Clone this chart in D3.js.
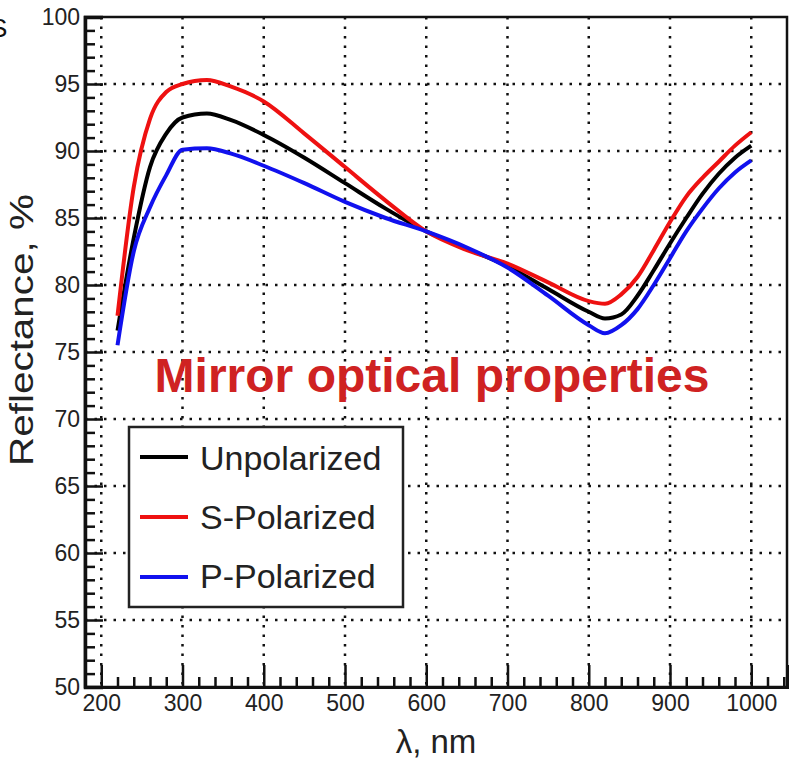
<!DOCTYPE html>
<html>
<head>
<meta charset="utf-8">
<script src="https://cdn.jsdelivr.net/npm/d3@7"></script>
<style>
  body { margin: 0; background: #fff; }
  svg { display: block; font-family: "Liberation Sans", Arial, sans-serif; }
</style>
</head>
<body>
<div id="chart"></div>
<script>
// wavelength samples (nm) and reflectance (%) per polarisation
var wavelengths = [220, 240, 260, 280, 300, 330, 360, 400, 450, 500, 550, 600, 650, 700, 750, 800, 820, 840, 860, 880, 900, 920, 940, 960, 980, 1000];
var unpolarized = [76.6, 83.5, 88.8, 91.3, 92.5, 92.8, 92.3, 91.2, 89.5, 87.6, 85.7, 84.0, 82.7, 81.4, 79.7, 78.0, 77.5, 77.8, 79.2, 81.1, 83.1, 85.0, 86.8, 88.3, 89.5, 90.4];
var sPolarized  = [77.7, 87.3, 92.4, 94.4, 95.0, 95.3, 94.8, 93.7, 91.3, 88.8, 86.3, 84.0, 82.6, 81.6, 80.2, 78.8, 78.6, 79.3, 80.6, 82.6, 84.7, 86.6, 88.0, 89.2, 90.4, 91.4];
var pPolarized  = [75.5, 82.5, 85.8, 88.2, 90.1, 90.2, 89.8, 88.9, 87.6, 86.2, 85.0, 84.0, 82.8, 81.3, 79.2, 77.0, 76.4, 77.0, 78.2, 80.0, 82.0, 84.0, 85.7, 87.2, 88.4, 89.3];
var seriesNames = ['Unpolarized', 'S-Polarized', 'P-Polarized'];
var xTicks = [200, 300, 400, 500, 600, 700, 800, 900, 1000];
var yTicks = [50, 55, 60, 65, 70, 75, 80, 85, 90, 95, 100];

var colors = ['#000000', '#ee1111', '#1111ee'];
var seriesValues = [unpolarized, sPolarized, pPolarized];

var
  margin = { top: 17, right: 2, bottom: 72, left: 85 },
  width = 789 - margin.left - margin.right,
  height = 759 - margin.top - margin.bottom;

var svg = d3.select('#chart').append('svg')
  .attr('width', 789)
  .attr('height', 759);

var g = svg.append('g').attr('transform', 'translate(' + margin.left + ',' + margin.top + ')');

var x = d3.scaleLinear().domain([180, 1044]).range([0, width]);
var y = d3.scaleLinear().domain([50, 100]).range([height, 0]);

// dotted grid
g.append('g').selectAll('line.vx')
  .data(xTicks).enter().append('line')
    .attr('x1', function(d) { return x(d); }).attr('x2', function(d) { return x(d); })
    .attr('y1', 0).attr('y2', height)
    .attr('stroke', '#111').attr('stroke-width', 2.5)
    .attr('stroke-dasharray', '2.5,7');
g.append('g').selectAll('line.hy')
  .data(yTicks.slice(1, -1)).enter().append('line')
    .attr('x1', 0).attr('x2', width)
    .attr('y1', function(d) { return y(d); }).attr('y2', function(d) { return y(d); })
    .attr('stroke', '#111').attr('stroke-width', 2.5)
    .attr('stroke-dasharray', '2.5,7');

// frame
g.append('rect')
  .attr('width', width).attr('height', height)
  .attr('fill', 'none').attr('stroke', '#111').attr('stroke-width', 2.5);

// minor ticks
var xMinor = d3.range(180, 1045, 20).filter(function(d) { return d % 100 !== 0; });
var yMinor = d3.range(50, 100, 1).filter(function(d) { return d % 5 !== 0; });

g.append('g').attr('transform', 'translate(0,' + height + ')')
  .call(d3.axisBottom(x).tickValues(xMinor).tickSize(-10).tickFormat(''))
  .call(function(s) { s.select('.domain').remove(); s.selectAll('line').attr('stroke-width', 2.5).attr('stroke', '#111'); });
g.append('g')
  .call(d3.axisLeft(y).tickValues(yMinor).tickSize(-10).tickFormat(''))
  .call(function(s) { s.select('.domain').remove(); s.selectAll('line').attr('stroke-width', 2.5).attr('stroke', '#111'); });

// major ticks + labels
g.append('g').attr('transform', 'translate(0,' + height + ')')
  .call(d3.axisBottom(x).tickValues(xTicks).tickSize(-22).tickPadding(8).tickFormat(d3.format('d')))
  .call(function(s) {
    s.select('.domain').attr('stroke-width', 3).attr('stroke', '#111');
    s.selectAll('line').attr('stroke-width', 2.5).attr('stroke', '#111');
    s.selectAll('text').attr('font-size', 23).attr('fill', '#222').attr('font-family', 'Liberation Sans, Arial, sans-serif');
  });
g.append('g')
  .call(d3.axisLeft(y).tickValues(yTicks).tickSize(-18).tickPadding(5))
  .call(function(s) {
    s.select('.domain').attr('stroke-width', 3.5).attr('stroke', '#111');
    s.selectAll('line').attr('stroke-width', 2.5).attr('stroke', '#111');
    s.selectAll('text').attr('font-size', 23).attr('fill', '#222').attr('font-family', 'Liberation Sans, Arial, sans-serif');
  });

// curves
var line = d3.line()
  .x(function(d) { return x(d[0]); })
  .y(function(d) { return y(d[1]); })
  .curve(d3.curveMonotoneX);

seriesValues.forEach(function(vals, i) {
  g.append('path')
    .datum(wavelengths.map(function(w, j) { return [w, vals[j]]; }))
    .attr('d', line)
    .attr('fill', 'none')
    .attr('stroke', colors[i])
    .attr('stroke-width', 4)
    .attr('stroke-linejoin', 'round');
});

// legend
var legend = svg.append('g').attr('transform', 'translate(129,427)');
legend.append('rect')
  .attr('width', 274).attr('height', 180)
  .attr('fill', '#fff').attr('stroke', '#222').attr('stroke-width', 2.5);
seriesNames.forEach(function(name, i) {
  legend.append('line')
    .attr('x1', 11).attr('x2', 59)
    .attr('y1', 30 + i * 60).attr('y2', 30 + i * 60)
    .attr('stroke', colors[i]).attr('stroke-width', 4);
  legend.append('text')
    .attr('x', 71).attr('y', 43 + i * 59)
    .attr('font-size', 34).attr('fill', '#222')
    .text(name);
});

// axis titles
svg.append('text')
  .attr('transform', 'translate(33,330) rotate(-90)')
  .attr('text-anchor', 'middle')
  .attr('font-size', 33).attr('fill', '#222')
  .attr('textLength', 272).attr('lengthAdjust', 'spacingAndGlyphs')
  .text('Reflectance, %');
svg.append('text')
  .attr('x', 436).attr('y', 753)
  .attr('text-anchor', 'middle')
  .attr('font-size', 33).attr('fill', '#222')
  .text('λ, nm');

// overlay title
svg.append('text')
  .attr('x', 432).attr('y', 392)
  .attr('text-anchor', 'middle')
  .attr('font-size', 48).attr('font-weight', 'bold').attr('fill', '#cf2222')
  .text('Mirror optical properties');

// clipped panel letter at the edge
svg.append('text')
  .attr('x', -10).attr('y', 37)
  .attr('font-size', 26).attr('fill', '#111')
  .text('S');
</script>
</body>
</html>
